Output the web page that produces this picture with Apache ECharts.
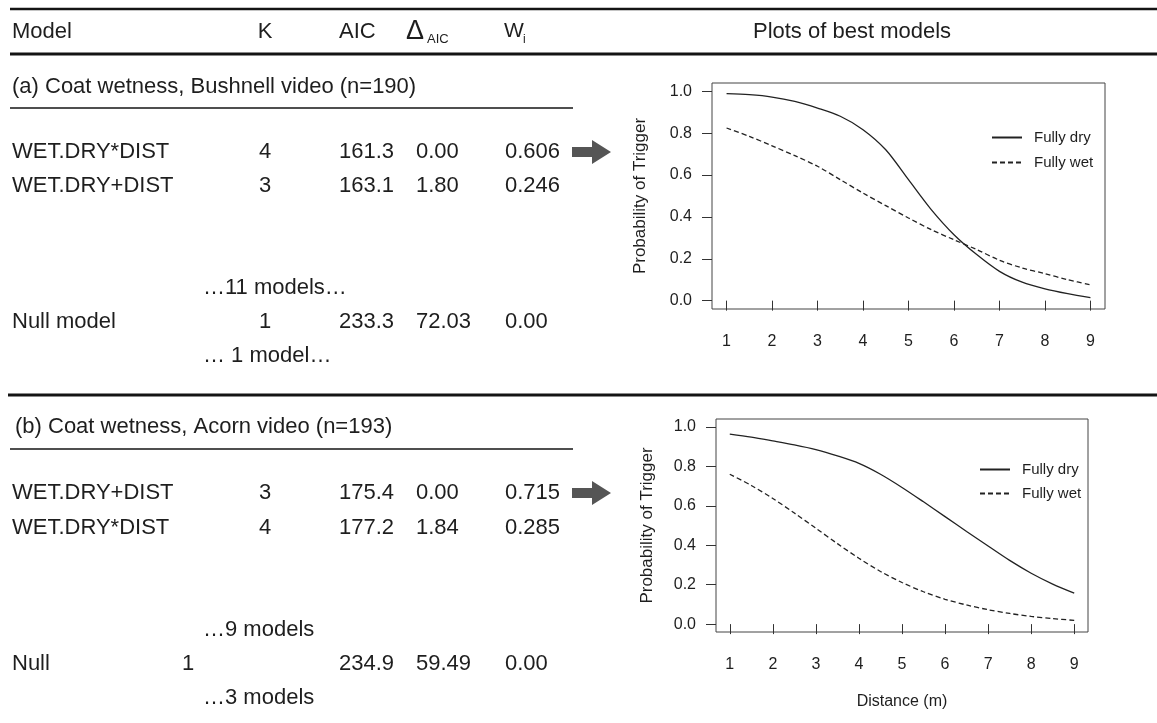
<!DOCTYPE html>
<html>
<head>
<meta charset="utf-8">
<title>Model selection and best models</title>
<script src="https://cdn.jsdelivr.net/npm/echarts@6/dist/echarts.min.js"></script>
<style>
  html, body { margin: 0; padding: 0; background: #fff; }
  #main { width: 1157px; height: 723px; }
</style>
</head>
<body>
<div id="main"></div>
<script>
// distance (m) at which the fitted curves were read
const distance = [1, 1.5, 2, 2.5, 3, 3.5, 4, 4.5, 5, 5.5, 6, 6.5, 7, 7.5, 8, 8.5, 9];

// (a) Bushnell video
const dryA = [0.989, 0.984, 0.973, 0.952, 0.920, 0.881, 0.817, 0.721, 0.578, 0.435, 0.315, 0.220, 0.140, 0.088, 0.056, 0.033, 0.014];
const wetA = [0.825, 0.785, 0.740, 0.693, 0.642, 0.578, 0.514, 0.454, 0.395, 0.339, 0.291, 0.244, 0.193, 0.156, 0.129, 0.100, 0.076];

// (b) Acorn video
const dryB = [0.963, 0.948, 0.929, 0.909, 0.885, 0.853, 0.815, 0.760, 0.693, 0.620, 0.545, 0.470, 0.396, 0.323, 0.258, 0.203, 0.157];
const wetB = [0.760, 0.703, 0.637, 0.563, 0.486, 0.408, 0.334, 0.267, 0.211, 0.164, 0.126, 0.097, 0.073, 0.054, 0.039, 0.028, 0.019];

const xTicks = [1, 2, 3, 4, 5, 6, 7, 8, 9];
const yTicks = [0, 0.2, 0.4, 0.6, 0.8, 1.0];
const seriesNames = ["Fully dry", "Fully wet"];

// table contents
const headers = ["Model", "K", "AIC", "Δ", "AIC", "W", "i"];
const panelTitles = ["(a) Coat wetness, Bushnell video (n=190)", "(b) Coat wetness, Acorn video (n=193)"];
const modelsA = ["WET.DRY*DIST", "WET.DRY+DIST", "Null model"];
const kA = ["4", "3", "1"];
const aicA = ["161.3", "163.1", "233.3"];
const deltaA = ["0.00", "1.80", "72.03"];
const wA = ["0.606", "0.246", "0.00"];
const moreA = ["…11 models…", "… 1 model…"];
const modelsB = ["WET.DRY+DIST", "WET.DRY*DIST", "Null"];
const kB = ["3", "4", "1"];
const aicB = ["175.4", "177.2", "234.9"];
const deltaB = ["0.00", "1.84", "59.49"];
const wB = ["0.715", "0.285", "0.00"];
const moreB = ["…9 models", "…3 models"];

const FONT = '"Liberation Sans", Arial, Helvetica, sans-serif';
const INK = "#1e1e1e";

const pairs = (ys) => distance.map((d, i) => [d, ys[i]]);

// graphic helpers
const txt = (x, y, s, size, align) => ({
  type: "text",
  x: x,
  y: y,
  style: {
    text: s,
    font: size + "px " + FONT,
    fill: INK,
    textAlign: align || "left",
    textVerticalAlign: "middle",
  },
});
const rule = (x1, x2, y, w) => ({
  type: "line",
  shape: { x1: x1, y1: y, x2: x2, y2: y },
  style: { stroke: "#141414", lineWidth: w },
});
const arrow = (y) => ({
  type: "polygon",
  shape: {
    points: [[572, y - 5], [592, y - 5], [592, y - 12], [611, y], [592, y + 12], [592, y + 5], [572, y + 5]],
  },
  style: { fill: "#555" },
});

const rowA = [152, 186, 322];
const rowB = [493, 528, 664];
const colK = 265, colAic = 339, colDelta = 416, colW = 505;

const graphics = [
  rule(10, 1157, 9, 2.5),
  rule(10, 1157, 54, 3),
  rule(8, 1157, 395, 3),
  rule(10, 573, 108, 1.5),
  rule(10, 573, 449, 1.5),
  txt(12, 32, headers[0], 22),
  txt(colK, 32, headers[1], 22, "center"),
  txt(colAic, 32, headers[2], 22),
  txt(406, 32, headers[3], 27),
  txt(427, 39, headers[4], 13),
  txt(504, 31, headers[5], 21),
  txt(523, 40, headers[6], 12),
  txt(852, 32, "Plots of best models", 22, "center"),
  txt(12, 87, panelTitles[0], 22),
  txt(15, 427, panelTitles[1], 22),
  txt(203, 288, moreA[0], 22),
  txt(203, 356, moreA[1], 22),
  txt(203, 630, moreB[0], 22),
  txt(203, 698, moreB[1], 22),
  arrow(rowA[0]),
  arrow(rowB[0]),
];
rowA.forEach((y, i) => {
  graphics.push(txt(12, y, modelsA[i], 22));
  graphics.push(txt(colK, y, kA[i], 22, "center"));
  graphics.push(txt(colAic, y, aicA[i], 22));
  graphics.push(txt(colDelta, y, deltaA[i], 22));
  graphics.push(txt(colW, y, wA[i], 22));
});
rowB.forEach((y, i) => {
  graphics.push(txt(12, y, modelsB[i], 22));
  // the null row puts K further left in the original
  graphics.push(txt(i === 2 ? 188 : colK, y, kB[i], 22, "center"));
  graphics.push(txt(colAic, y, aicB[i], 22));
  graphics.push(txt(colDelta, y, deltaB[i], 22));
  graphics.push(txt(colW, y, wB[i], 22));
});

const xAxisFor = (gridIndex, extra) =>
  Object.assign(
    {
      type: "value",
      gridIndex: gridIndex,
      min: 0.68,
      max: 9.32,
      axisLine: { show: false },
      splitLine: { show: false },
      axisTick: { customValues: xTicks, length: 10, inside: false, lineStyle: { color: "#333" } },
      axisLabel: { customValues: xTicks, margin: 25, fontSize: 16, color: INK, fontFamily: FONT },
    },
    extra || {}
  );
const yAxisFor = (gridIndex, gap) => ({
  type: "value",
  gridIndex: gridIndex,
  min: -0.04,
  max: 1.04,
  name: "Probability of Trigger",
  nameLocation: "middle",
  nameGap: gap,
  nameTextStyle: { fontSize: 17, color: INK, fontFamily: FONT },
  axisLine: { show: false },
  splitLine: { show: false },
  axisTick: { customValues: yTicks, length: 10, inside: false, lineStyle: { color: "#333" } },
  axisLabel: {
    customValues: yTicks,
    margin: 20,
    fontSize: 16,
    color: INK,
    fontFamily: FONT,
    formatter: (v) => v.toFixed(1),
  },
});

const lineSeries = (name, data, idx, dashed) => ({
  name: name,
  type: "line",
  xAxisIndex: idx,
  yAxisIndex: idx,
  data: data,
  smooth: 0.3,
  symbol: "none",
  lineStyle: { color: "#222", width: 1.3, type: dashed ? [5, 3] : "solid" },
  itemStyle: { color: "#222" },
});

const legendFor = (left, top, gap) => ({
  data: seriesNames,
  orient: "vertical",
  left: left,
  top: top,
  padding: 0,
  itemWidth: 30,
  itemHeight: 14,
  itemGap: gap,
  itemStyle: { opacity: 0 },
  textStyle: { fontSize: 15, color: INK, fontFamily: FONT, padding: [0, 0, 0, 7] },
  selectedMode: false,
});

const chart = echarts.init(document.getElementById("main"));
chart.setOption({
  animation: false,
  backgroundColor: "#fff",
  textStyle: { fontFamily: FONT },
  grid: [
    { left: 712, top: 83, width: 393, height: 226, show: true, borderColor: "#444", borderWidth: 1 },
    { left: 716, top: 419, width: 372, height: 213, show: true, borderColor: "#444", borderWidth: 1 },
  ],
  xAxis: [
    xAxisFor(0),
    xAxisFor(1, {
      name: "Distance (m)",
      nameLocation: "middle",
      nameGap: 62,
      nameTextStyle: { fontSize: 16, color: INK, fontFamily: FONT },
    }),
  ],
  yAxis: [yAxisFor(0, 63), yAxisFor(1, 60)],
  legend: [legendFor(991, 130, 10), legendFor(979, 462, 9)],
  series: [
    lineSeries(seriesNames[0], pairs(dryA), 0, false),
    lineSeries(seriesNames[1], pairs(wetA), 0, true),
    lineSeries(seriesNames[0], pairs(dryB), 1, false),
    lineSeries(seriesNames[1], pairs(wetB), 1, true),
  ],
  graphic: graphics,
});
</script>
</body>
</html>
